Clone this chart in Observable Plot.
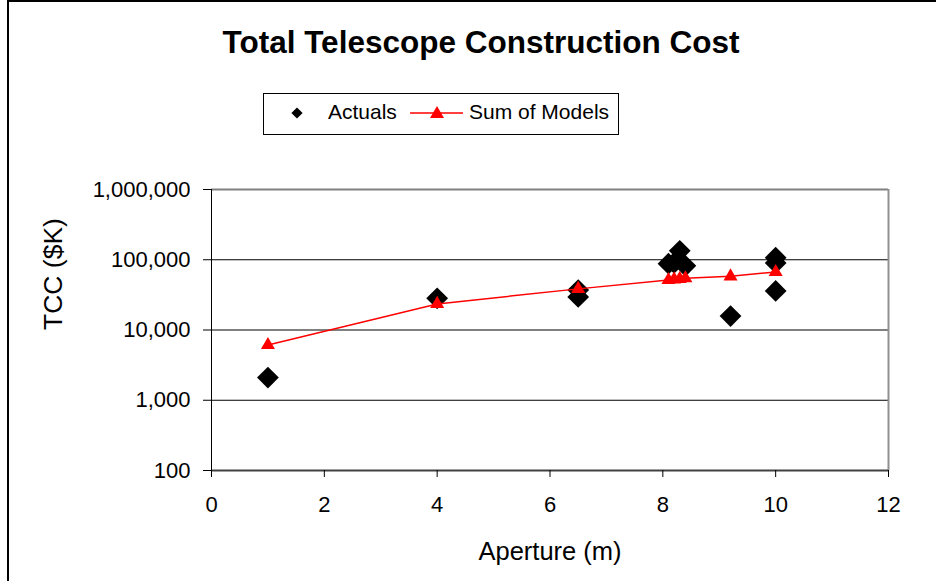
<!DOCTYPE html>
<html>
<head>
<meta charset="utf-8">
<script src="https://cdn.jsdelivr.net/npm/d3@7"></script>
<script src="https://cdn.jsdelivr.net/npm/@observablehq/plot@0.6"></script>
<style>
  html, body { margin: 0; padding: 0; background: #fff; }
  #wrap { position: relative; width: 936px; height: 581px; overflow: hidden; font-family: "Liberation Sans", Arial, sans-serif; }
  #border { position: absolute; left: 7px; top: 0; width: 1000px; height: 700px; border-left: 2px solid #000; border-top: 2px solid #000; }
  #title { position: absolute; left: 0; width: 962px; top: 24px; text-align: center; font-weight: bold; font-size: 31.5px; line-height: normal; color: #000; }
  #legend { position: absolute; left: 263px; top: 93px; }
  #chart { position: absolute; left: 0; top: 0; }
</style>
</head>
<body>
<div id="wrap">
  <div id="chart"></div>
  <div id="border"></div>
  <div id="title">Total Telescope Construction Cost</div>
  <div id="legend"></div>
</div>
<script>
// Actual costs ($K) by aperture (m)
const actualAperture = [1, 4, 6.5, 6.5, 8.1, 8.2, 8.3, 8.4, 9.2, 10, 10, 10];
const actualCost = [2100, 28200, 37000, 29500, 88000, 90000, 134000, 82000, 15800, 107000, 90000, 36000];
// Sum of models ($K) by aperture (m)
const modelAperture = [1, 4, 6.5, 8.1, 8.2, 8.3, 8.4, 9.2, 10];
const modelCost = [6100, 23500, 38500, 51500, 52500, 53500, 54500, 58000, 67000];
// Axis ticks
const xTicks = [0, 2, 4, 6, 8, 10, 12];
const yTicks = [100, 1000, 10000, 100000, 1000000];
const gridValues = [1000, 10000, 100000];
const seriesNames = ["Actuals", "Sum of Models"];

const actuals = actualAperture.map((a, i) => ({aperture: a, cost: actualCost[i]}));
const models = modelAperture.map((a, i) => ({aperture: a, cost: modelCost[i]}));

const chart = Plot.plot({
  width: 936,
  height: 581,
  marginLeft: 211,
  marginRight: 48,
  marginTop: 189,
  marginBottom: 111,
  style: {fontFamily: "'Liberation Sans', Arial, sans-serif", fontSize: "22px", color: "#000", background: "transparent"},
  x: {domain: [0, 12], ticks: xTicks, label: null},
  y: {type: "log", domain: [100, 1000000], ticks: yTicks, label: null},
  marks: [
    Plot.ruleY(gridValues, {stroke: "#000", strokeWidth: 1}),
    Plot.ruleY([1000000], {stroke: "#808080", strokeWidth: 2}),
    Plot.ruleX([12], {stroke: "#909090", strokeWidth: 2}),
    Plot.ruleY([100], {stroke: "#404040", strokeWidth: 2}),
    Plot.ruleX([0], {stroke: "#000", strokeWidth: 1}),
    Plot.axisX({ticks: xTicks, tickSize: 7, tickPadding: 19, fontSize: 22, label: null, stroke: "#000"}),
    Plot.axisY({ticks: yTicks, tickSize: 8, tickPadding: 13, fontSize: 22, tickFormat: d3.format(","), label: null, stroke: "#000"}),
    Plot.dot(actuals, {x: "aperture", y: "cost", symbol: "diamond2", r: 9.8, fill: "#000", stroke: "none"}),
    Plot.line(models, {x: "aperture", y: "cost", stroke: "#ff0000", strokeWidth: 1.5}),
    Plot.dot(models, {x: "aperture", y: "cost", symbol: "triangle", r: 5.2, fill: "#ff0000", stroke: "none"}),
    Plot.text(["Aperture (m)"], {frameAnchor: "bottom", dy: 89, fontSize: 25.5, fill: "#000"}),
    Plot.text(["TCC ($K)"], {frameAnchor: "left", dx: -158, rotate: -90, fontSize: 26.5, fill: "#000"})
  ]
});
document.getElementById("chart").appendChild(chart);

// Legend
const lg = d3.select("#legend").append("svg")
  .attr("width", 357).attr("height", 43)
  .style("font-family", "'Liberation Sans', Arial, sans-serif");
lg.append("rect").attr("x", 0.5).attr("y", 0.5).attr("width", 355).attr("height", 41)
  .attr("fill", "#fff").attr("stroke", "#000").attr("stroke-width", 1);
lg.append("path").attr("transform", "translate(34,20)")
  .attr("d", d3.symbol(d3.symbolDiamond2, 80)()).attr("fill", "#000");
lg.append("text").attr("x", 65).attr("y", 26).attr("font-size", 21).text(seriesNames[0]);
lg.append("line").attr("x1", 147).attr("x2", 200).attr("y1", 20).attr("y2", 20)
  .attr("stroke", "#ff0000").attr("stroke-width", 1.5);
lg.append("path").attr("transform", "translate(174,21)")
  .attr("d", d3.symbol(d3.symbolTriangle, Math.PI * 5.2 * 5.2)()).attr("fill", "#ff0000");
lg.append("text").attr("x", 206).attr("y", 26).attr("font-size", 21).text(seriesNames[1]);
</script>
</body>
</html>
